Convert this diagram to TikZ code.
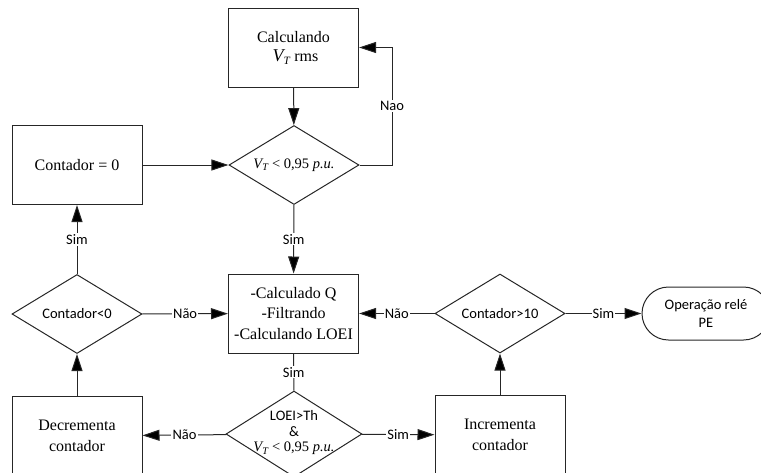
\documentclass[tikz,border=0pt]{standalone}
\usepackage{fontspec}
\setmainfont{Liberation Serif}
\newfontfamily\labfont{Carlito}
\usetikzlibrary{shapes.geometric,shapes.misc,arrows.meta}
\begin{document}
\begin{tikzpicture}[x=1pt,y=-1pt,
 box/.style={draw=black!85, line width=1pt, minimum width=130pt, minimum height=79pt, inner sep=0pt, align=center, font=\fontsize{16}{20.5}\selectfont},
 dia/.style={draw=black!85, line width=1pt, diamond, minimum width=130pt, minimum height=79pt, inner sep=0pt},
 dtext/.style={align=center, inner sep=0pt, font=\labfont\fontsize{14.5}{16}\selectfont},
 lab/.style={fill=white, inner sep=1.2pt, font=\labfont\fontsize{14.5}{16}\selectfont},
 arr/.style={line width=1pt, draw=black!85, -{Triangle[length=17pt,width=11pt,fill=black]}},
 ln/.style={line width=1pt, draw=black!85}
]
\path[use as bounding box] (0,0) rectangle (761,472);
\clip (0,0) rectangle (761,472);

% nodes
\node[box] (calc) at (293.5,47.5) {Calculando\\[-1pt]\hspace*{4pt}{\fontsize{18}{20}\selectfont\itshape V}\textsubscript{\itshape T} rms};
\node[dia] (d1) at (294,165) {};
\node[dtext, font=\fontsize{14.5}{16}\selectfont] (d1t) at (d1) {{\itshape V}\textsubscript{\itshape T} < 0,95 {\itshape p.u.}};
\node[box] (c0) at (77,165) {Contador = 0};
\node[dia] (d2) at (77,314) {};
\node[dtext] (d2t) at (d2) {Contador<0};
\node[box] (mid) at (293.5,313.5) {-Calculado Q\\-Filtrando\\-Calculando LOEI};
\node[dia] (d3) at (500,313.5) {};
\node[dtext] (d3t) at (d3) {Contador>10};
\node[draw=black!85, line width=1pt, rounded rectangle, minimum width=128pt, minimum height=53pt, inner sep=0pt, align=center, font=\labfont\fontsize{14.5}{18}\selectfont] (op) at (706,313.5) {Operação relé\\PE};
\node[dia, minimum width=136pt, minimum height=86pt] (d4) at (294,434) {};
\node[dtext, font=\fontsize{14.5}{15.5}\selectfont] (d4t) at (294,433) {{\labfont LOEI>Th}\\{\labfont\&}\\{\itshape V}\textsubscript{\itshape T} < 0,95 {\itshape p.u.}};
\node[box] (dec) at (77,436) {Decrementa\\contador};
\node[box] (inc) at (500,435) {Incrementa\\contador};

% connectors
\draw[arr] (calc) -- (d1);
\draw[arr] (d1.east) -- (392,165) |- node[lab, pos=0.25] {Nao} (calc.east);
\draw[arr] (c0) -- (d1);
\draw[arr] (d1) -- node[lab] {Sim} (mid);
\draw[arr] (d2) -- node[lab] {Sim} (c0);
\draw[arr] (d2) -- node[lab] {Não} (mid);
\draw[arr] (d3) -- node[lab] {Não} (mid);
\draw[arr] (d3) -- node[lab] {Sim} (op);
\draw[ln] (mid) -- node[lab] {Sim} (d4);
\draw[arr] (d4) -- node[lab] {Sim} (inc);
\draw[arr] (d4) -- node[lab] {Não} (dec);
\draw[arr] (dec) -- (d2);
\draw[arr] (inc) -- (d3);
\end{tikzpicture}
\end{document}
